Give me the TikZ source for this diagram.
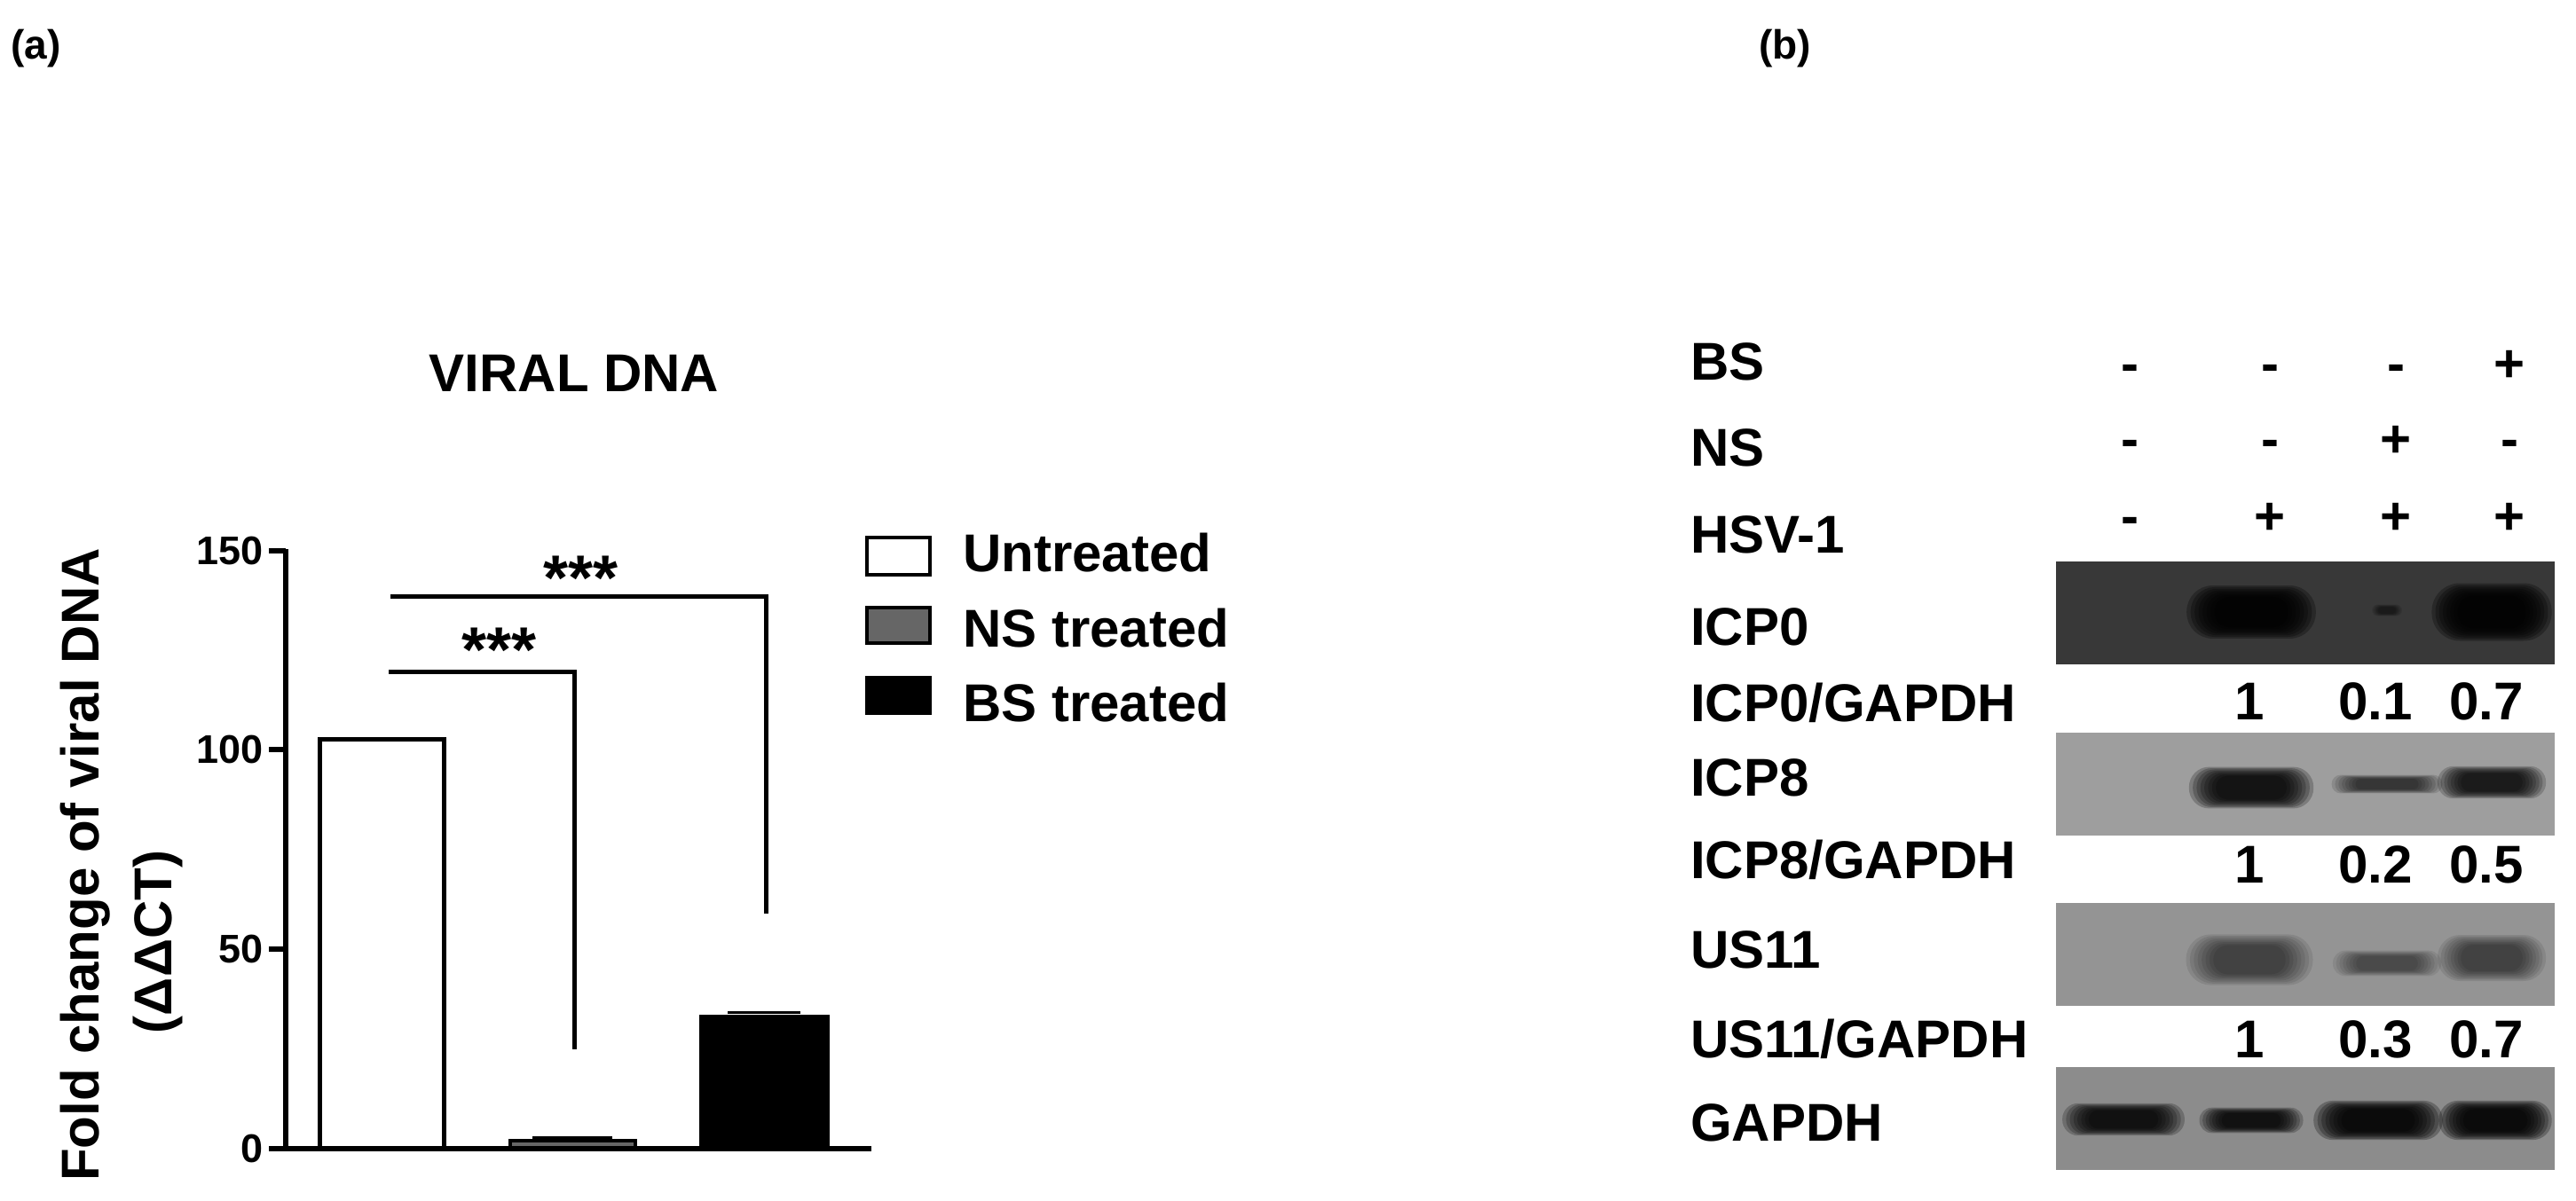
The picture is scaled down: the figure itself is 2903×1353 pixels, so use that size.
\documentclass[tikz,border=0pt]{standalone}
\usepackage{fontspec}
\setmainfont{Liberation Sans}
\begin{document}
\begin{tikzpicture}[x=1pt,y=-1pt,
  lab/.style={font=\fontsize{60}{60}\selectfont\bfseries, inner sep=0pt},
  tick/.style={font=\fontsize{45}{45}\selectfont\bfseries, inner sep=0pt, anchor=east},
  sign/.style={font=\fontsize{60}{60}\selectfont\bfseries, inner sep=0pt, anchor=base},
  num/.style={font=\fontsize{60}{60}\selectfont\bfseries, inner sep=0pt, anchor=base},
  stars/.style={font=\fontsize{72}{72}\selectfont\bfseries, inner sep=0pt},
  ax/.style={line width=6pt},
  brk/.style={line width=5pt},
  blot/.style={inner sep=0pt, minimum width=562pt, minimum height=116pt, anchor=north west}]
\useasboundingbox (0,0) rectangle (2903,1353);
% panel labels
\node[font=\fontsize{46}{46}\selectfont\bfseries, anchor=base west, inner sep=0pt] (pa) at (12,66) {(a)};
\node[font=\fontsize{46}{46}\selectfont\bfseries, anchor=base west, inner sep=0pt] (pb) at (1982,66) {(b)};
% ---------- panel a ----------
\node[lab, anchor=base] (title) at (647,441) {VIRAL DNA};
\node[lab, rotate=90, anchor=center] (ylab) at (96,975) {Fold change of viral DNA};
\node[lab, rotate=90, anchor=center] (ylab2) at (178,1062) {(ΔΔCT)};
% bars
\draw[line width=5pt, fill=white] (360,1295) -- (360,833) -- (500,833) -- (500,1295);
\draw[line width=4pt, fill=black!60] (575,1295) rectangle (716,1286);
\draw[line width=3pt] (600,1282) -- (690,1282);
\fill[black] (788,1295) rectangle (935,1144);
\draw[line width=3pt] (820,1141) -- (902,1141);
% axes
\draw[ax] (322,619) -- (322,1295);
\draw[ax] (303,1295) -- (982,1295);
\foreach \v/\yy in {0/1295,50/1070,100/845,150/621}{
  \draw[ax] (303,\yy) -- (322,\yy);
  \node[tick] (t\v) at (297,\yy) {\v};
}
% significance brackets
\coordinate (b1a) at (438,757); \coordinate (b1b) at (647,757); \coordinate (b1c) at (647,1183);
\draw[brk] (b1a) -- (b1b) -- (b1c);
\node[stars] (s1) at (563,733) {***};
\coordinate (b2a) at (440,672); \coordinate (b2b) at (863,672); \coordinate (b2c) at (863,1030);
\draw[brk] (b2a) -- (b2b) -- (b2c);
\node[stars] (s2) at (655,652) {***};
% legend
\draw[line width=4pt, fill=white] (977,606) rectangle (1048,648);
\draw[line width=4pt, fill=black!60] (977,685) rectangle (1048,725);
\fill[black] (975,762) rectangle (1050,806);
\node[lab, anchor=base west] (l1) at (1085,644) {Untreated};
\node[lab, anchor=base west] (l2) at (1085,729) {NS treated};
\node[lab, anchor=base west] (l3) at (1085,813) {BS treated};
% ---------- panel b ----------
\foreach \t/\yy in {BS/428,NS/525,HSV-1/623,ICP0/727,ICP0\slash GAPDH/813,ICP8/897,ICP8\slash GAPDH/990,US11/1091,US11\slash GAPDH/1192,GAPDH/1286}{
  \node[lab, anchor=base west] at (1905,\yy) {\t};
}
% signs
\foreach \s/\xx in {-/2400,-/2558,-/2700,+/2828}{ \node[sign] at (\xx,430) {\s}; }
\foreach \s/\xx in {-/2400,-/2558,+/2700,-/2828}{ \node[sign] at (\xx,515) {\s}; }
\foreach \s/\xx in {-/2400,+/2558,+/2700,+/2828}{ \node[sign] at (\xx,602) {\s}; }
% blots
\node[blot, fill=black!78] (bicp0) at (2317,633) {};
\node[blot, fill=black!38] (bicp8) at (2317,826) {};
\node[blot, fill=black!42] (bus11) at (2317,1018) {};
\node[blot, fill=black!45] (bgap) at (2317,1203) {};
% bands
\newcommand{\band}[5]{% x y w h darkness
  \foreach \k in {1.3,1.22,1.14,1.06,0.98,0.9,0.82,0.74}{
    \fill[black, opacity=#5, rounded corners={#4*\k/2.05}] ({#1-#3*\k/2},{#2-#4*\k/2}) rectangle ({#1+#3*\k/2},{#2+#4*\k/2});
  }}
\band{2537}{690}{112}{46}{0.28}
\band{2808}{690}{104}{50}{0.28}
\band{2690}{688}{26}{10}{0.08}
\band{2537}{888}{108}{36}{0.22}
\band{2690}{884}{96}{16}{0.12}
\band{2808}{882}{94}{28}{0.19}
\band{2535}{1082}{110}{44}{0.09}
\band{2690}{1086}{94}{22}{0.08}
\band{2808}{1080}{94}{40}{0.09}
\band{2393}{1262}{106}{28}{0.22}
\band{2537}{1263}{90}{22}{0.22}
\band{2680}{1263}{112}{34}{0.26}
\band{2812}{1263}{98}{34}{0.26}
% ratios
\foreach \t/\xx in {1/2535,0.1/2677,0.7/2802}{ \node[num] at (\xx,811) {\t}; }
\foreach \t/\xx in {1/2535,0.2/2677,0.5/2802}{ \node[num] at (\xx,995) {\t}; }
\foreach \t/\xx in {1/2535,0.3/2677,0.7/2802}{ \node[num] at (\xx,1192) {\t}; }
\end{tikzpicture}
\end{document}
